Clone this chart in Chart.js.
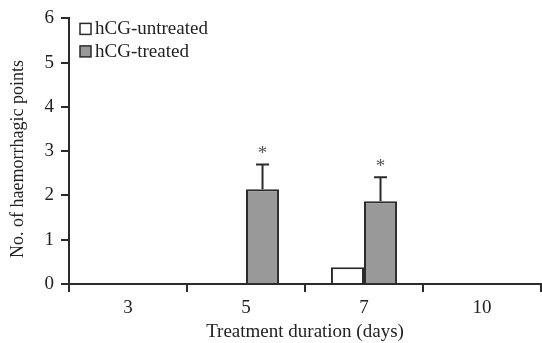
<!DOCTYPE html>
<html>
<head>
<meta charset="utf-8">
<script src="https://cdn.jsdelivr.net/npm/chart.js@4.4.1/dist/chart.umd.min.js"></script>
<style>
  html, body { margin: 0; padding: 0; background: #fff; }
  #wrap { width: 542px; height: 343px; position: relative; }
</style>
</head>
<body>
<div id="wrap"><canvas id="chart"></canvas></div>
<script>
// data
const days = ["3", "5", "7", "10"];
const untreated = [0, 0, 0.38, 0];
const treated = [0, 2.14, 1.87, 0];
const treatedErr = [null, 0.56, 0.54, null];
const treatedMark = ["", "*", "*", ""];
const yTicks = [0, 1, 2, 3, 4, 5, 6];
const yTitle = "No. of haemorrhagic points";
const xTitle = "Treatment duration (days)";

const SERIF = "'Liberation Serif', 'DejaVu Serif', serif";
const INK = "#2b2b2b";

// error bars + asterisks on the treated series
const errorBars = {
  id: "errorBars",
  afterDatasetsDraw(chart) {
    const ctx = chart.ctx;
    const meta = chart.getDatasetMeta(1);
    const y = chart.scales.y;
    ctx.save();
    meta.data.forEach((bar, i) => {
      const e = treatedErr[i];
      if (e == null) return;
      const top = y.getPixelForValue(treated[i] + e);
      ctx.strokeStyle = INK;
      ctx.lineWidth = 2;
      ctx.beginPath();
      ctx.moveTo(bar.x, bar.y);
      ctx.lineTo(bar.x, top);
      ctx.moveTo(bar.x - 6.5, top);
      ctx.lineTo(bar.x + 6.5, top);
      ctx.stroke();
      if (treatedMark[i]) {
        ctx.fillStyle = "#555";
        ctx.font = "19px " + SERIF;
        ctx.textAlign = "center";
        ctx.textBaseline = "middle";
        ctx.fillText(treatedMark[i], bar.x, top - 10);
      }
    });
    ctx.restore();
  }
};

// legend inside the plot (top-left) and the y title
const boxLegend = {
  id: "boxLegend",
  afterDraw(chart) {
    const ctx = chart.ctx;
    const x0 = chart.chartArea.left + 11;
    let y0 = chart.chartArea.top + 5;
    ctx.save();
    chart.data.datasets.forEach(ds => {
      ctx.fillStyle = ds.backgroundColor;
      ctx.fillRect(x0, y0, 11, 11);
      ctx.strokeStyle = INK;
      ctx.lineWidth = 1.5;
      ctx.strokeRect(x0, y0, 11, 11);
      ctx.fillStyle = "#222";
      ctx.font = "19px " + SERIF;
      ctx.textAlign = "left";
      ctx.textBaseline = "middle";
      ctx.fillText(ds.label, x0 + 15, y0 + 6);
      y0 += 22.5;
    });
    // y axis title, a bit below the plot centre as in the figure
    ctx.translate(18, 159);
    ctx.rotate(-Math.PI / 2);
    ctx.font = "18px " + SERIF;
    ctx.textAlign = "center";
    ctx.fillText(yTitle, 0, 0);
    ctx.restore();
  }
};

new Chart(document.getElementById("chart"), {
  type: "bar",
  data: {
    labels: days,
    datasets: [
      { label: "hCG-untreated", data: untreated, backgroundColor: "#ffffff",
        borderColor: INK, borderWidth: 2, borderSkipped: "bottom" },
      { label: "hCG-treated", data: treated, backgroundColor: "#999999",
        borderColor: INK, borderWidth: 2, borderSkipped: "bottom" }
    ]
  },
  options: {
    responsive: true,
    maintainAspectRatio: false,
    animation: false,
    datasets: { bar: { categoryPercentage: 0.56, barPercentage: 1 } },
    layout: { padding: { top: 18, right: 1, left: 0, bottom: 0 } },
    plugins: { legend: { display: false }, tooltip: { enabled: false } },
    scales: {
      x: {
        afterFit: s => { s.height = 59; },
        grid: { drawOnChartArea: false, tickLength: 8, color: INK, lineWidth: 2, offset: true },
        border: { color: INK, width: 2 },
        ticks: { color: "#222", font: { family: SERIF, size: 19 }, padding: 5 },
        title: { display: true, text: xTitle, color: "#222",
                 font: { family: SERIF, size: 19 }, padding: { top: 2, bottom: 0 } }
      },
      y: {
        min: 0, max: 6,
        afterFit: s => { s.width = 69; },
        afterBuildTicks: s => { s.ticks = yTicks.map(v => ({ value: v })); },
        grid: { drawOnChartArea: false, tickLength: 8, color: INK, lineWidth: 2 },
        border: { color: INK, width: 2 },
        ticks: { color: "#222", font: { family: SERIF, size: 19 }, padding: 7 }
      }
    }
  },
  plugins: [errorBars, boxLegend]
});
</script>
</body>
</html>
